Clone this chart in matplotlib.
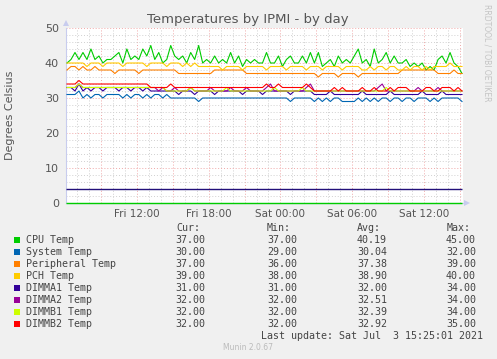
import matplotlib
matplotlib.use("Agg")
import matplotlib.pyplot as plt
from matplotlib.patches import Rectangle

# ---------------- data ----------------
start_hour = 6.1667          # Fri 06:10 (hours since Fri 00:00)
step_hours = 1.0 / 3.0       # 20-minute samples

cpu = [40,41,43,41,43,41,44,41,42,40, 41,41,42,43,40,44,41,42,41,44,
       42,45,41,43,40,41,45,42,41,42, 40,43,41,45,
       40,41,40,42,40,41,40,43,40,42, 39,41,40,41,40,40,
       43,40,40,42,39,41,42,40,40,42, 40,43,40,43,39,40,41,39,42,40,
       41,40,42,44,40,41,39,44,40,41, 43,40,42,40,40,41,39,40,39,40,
       38,39,38,41,42,40,43,40,39,37]
system = [31,31,31,32,30,31,30,31,31,30, 31,31,31,31,30,31,30,31,31,30,
          31,30,31,31,30,31,
          30,30,30,30,30,30,30,29,30,30, 30,30,30,30,30,30,30,30,30,30,
          30,30,30,30,30,30,30,30,30,30,
          29,30,30,30,30,30,29,30,29,30, 29,30,30,29,29,29,29,30,29,30,
          29,30,29,30,30,29,30,30,29,30, 30,29,30,30,30,29,30,29,30,30,
          30,30,30,29]
peripheral = [38,39,39,38,39,38,38,39,38,38, 38,38,37,38,38,38,38,38,37,38,
              38,38,38,38,38,38,38,38,
              37,37,37,37,37,37,37,37,37,
              38,38,38,38,38,38,38,38,
              37,37,37,37,37,37,37,37,37,37, 37,37,37,37,37,37,37,37,36,37,
              37,37,37,36,37,37,37,37,36,37, 37,37,37,37,37,37,37,37,37,38,
              38,38,38,38,38,38,38,38,37,37, 37,37,38,37,37]
pch = [40,40,40,40,40,39,40,40,40,39, 40,40,40,40,39,40,40,40,40,40,
       39,40,40,40,40,39,40,40,40,39, 40,39,40,39,39,39,
       39,39,39,38,39,39,39,39,38,39, 39,39,39,39,38,39,39,39,39,38,
       39,39,39,39,38,39,39,39,38,39, 39,39,39,38,39,39,39,39,38,38,
       39,38,39,39,38,39,39,38,38,39, 38,39,39,38,39,38,39,39,39,39,
       40,39,39,39]
dimma1 = [33,33,32,34,32,33,32,33,33,32, 33,33,33,32,33,33,32,33,33,32, 33,
          32,32,32,32,32,32,32,31,32,32, 32,31,32,32,32,32,31,32,32,32,
          32,32,32,31,32,32,32,32,31,32, 32,32,32,32,32,31,32,32,32,32, 32,
          31,31,31,31,32,31,31,31,31,31, 31,31,32,31,31,31,31,31,31,32,
          31,31,31,31,31,31,31,32,31,31, 31,31,32,31,31,31,31,31]
dimma2 = [33,33,33,34,33,33,33,33,33,33, 33,33,33,33,33,33,33,33,33,33, 33,
          33,33,32,33,32,32,33,32,32,32, 33,32,32,32,32,33,32,32,32,32,
          33,32,32,32,33,32,32,32,32,33, 34,32,32,32,32,32,32,32,32,33, 34,
          32,32,32,32,32,32,32,32,32,32, 32,32,32,32,32,32,33,34,32,32,
          32,32,32,32,32,32,33,32,32,32, 32,33,32,32,32,32,32,32]
dimmb1 = [33,33,33,34,33,33,33,33,33,33, 33,33,33,33,33,33,33,33,33,33,
          33,33,33,33,33,
          32,32,32,32,32,32,33,32,32,32, 32,32,32,32,32,33,32,32,32,32,
          32,32,32,32,32,32,32,33,32,32, 32,32,32,32,33,32,32,32,32,32,
          32,32,32,32,32,32,32,32,32,32, 32,32,32,32,32,33,32,32,32,32,
          32,32,32,32,32,32,32,32,32,32, 32,32,32,32,32]
dimmb2 = [34,34,34,35,34,34,34,34,34,34, 34,34,34,34,34,34,34,34,34,34, 34,
          33,33,33,33,33,34,33,33,33,33, 33,33,33,33,33,33,33,33,33,33,
          33,33,33,33,33,33,33,33,33,34, 33,33,34,33,33,33,33,33,33,34, 33,
          32,32,32,32,32,33,32,33,32,32, 32,32,33,32,32,33,32,32,32,33,
          32,33,33,33,32,32,32,32,33,33, 32,32,33,33,33,32,33,32]
aux_levels = [4, 0]
aux_colors = ["#22107A", "#00CC00"]

series_names = ["CPU Temp", "System Temp", "Peripheral Temp", "PCH Temp",
                "DIMMA1 Temp", "DIMMA2 Temp", "DIMMB1 Temp", "DIMMB2 Temp"]
series_values = [cpu, system, peripheral, pch, dimma1, dimma2, dimmb1, dimmb2]
series_colors = ["#00CC00", "#0066B3", "#FF8000", "#FFCC00",
                 "#330099", "#990099", "#CCFF00", "#FF0000"]
cur_vals = [37.00, 30.00, 37.00, 39.00, 31.00, 32.00, 32.00, 32.00]
min_vals = [37.00, 29.00, 36.00, 38.00, 31.00, 32.00, 32.00, 32.00]
avg_vals = [40.19, 30.04, 37.38, 38.90, 32.00, 32.51, 32.39, 32.92]
max_vals = [45.00, 32.00, 39.00, 40.00, 34.00, 34.00, 34.00, 35.00]

xtick_pos = [12, 18, 24, 30, 36]
xtick_labels = ["Fri 12:00", "Fri 18:00", "Sat 00:00", "Sat 06:00", "Sat 12:00"]
ytick_pos = [0, 10, 20, 30, 40, 50]

# ---------------- figure ----------------
W, H = 497, 359
fig = plt.figure(figsize=(W / 100, H / 100), dpi=100, facecolor="#F0F0F0")
ax = fig.add_axes([66 / W, 1 - 203 / H, 397 / W, 175 / H])
ax.set_facecolor("white")

x0, x1 = 6.083, 39.25
ax.set_xlim(x0, x1)
ax.set_ylim(0, 50)

# grid
dot = (0, (1, 2))
for h in range(7, 40):
    col = "#F0A8A8" if h % 3 == 0 else "#D0D0D0"
    ax.axvline(h, color=col, lw=0.7, ls=dot, zorder=0)
for v in range(2, 51, 2):
    col = "#F0A8A8" if v % 10 == 0 else "#D0D0D0"
    ax.axhline(v, color=col, lw=0.7, ls=dot, zorder=0)

n = len(cpu)
times = [start_hour + i * step_hours for i in range(n)]

for lvl, c in zip(aux_levels, aux_colors):
    ax.plot([x0, times[-1]], [lvl, lvl], color=c, lw=1.0, zorder=4,
            clip_on=False, solid_capstyle="butt")

for vals, c in zip(series_values, series_colors):
    ax.plot(times, vals, color=c, lw=0.8, zorder=3)

for s in ["top", "right"]:
    ax.spines[s].set_visible(False)
for s in ["left", "bottom"]:
    ax.spines[s].set_color("#C8CCEE")
    ax.spines[s].set_linewidth(0.8)
ax.plot([x0], [51.5], marker="^", color="#C8CCEE", ms=4, clip_on=False,
        markeredgewidth=0)
ax.plot([x1 + 0.35], [0], marker=">", color="#C8CCEE", ms=4, clip_on=False,
        markeredgewidth=0)

ax.set_xticks(xtick_pos)
ax.set_xticklabels(xtick_labels)
ax.set_yticks(ytick_pos)
ax.set_yticklabels([str(v) for v in ytick_pos])
ax.tick_params(length=0, labelsize=7.5, colors="#555555", pad=4)
ax.tick_params(axis="y", labelsize=8, pad=5)

# texts
fig.text(248 / W, 1 - 19 / H, "Temperatures by IPMI - by day", ha="center",
         va="center", fontsize=9.5, color="#555555")
fig.text(10 / W, 1 - 115 / H, "Degrees Celsius", rotation=90, ha="center",
         va="center", fontsize=8, color="#555555")
fig.text(487 / W, 1 - 4 / H, "RRDTOOL / TOBI OETIKER", rotation=270,
         ha="center", va="top", fontsize=5.5, color="#C4C4C4")

mono = "DejaVu Sans Mono"
fs = 7.2
tcol = "#444444"
col_ends = [205.5, 297, 387, 476]
hdr_ends = [200, 291, 381, 471]
for lbl, xe in zip(["Cur:", "Min:", "Avg:", "Max:"], hdr_ends):
    fig.text(xe / W, 1 - 228 / H, lbl, ha="right", va="center",
             family=mono, fontsize=fs, color=tcol)
for k, (name, c) in enumerate(zip(series_names, series_colors)):
    yc = 240 + 12 * k
    fig.patches.append(Rectangle((14 / W, 1 - (yc + 3) / H), 6 / W, 6 / H,
                                 transform=fig.transFigure, facecolor=c,
                                 edgecolor="none"))
    fig.text(26 / W, 1 - yc / H, name, ha="left", va="center",
             family=mono, fontsize=fs, color=tcol)
    for vals, xe in zip([cur_vals, min_vals, avg_vals, max_vals], col_ends):
        fig.text(xe / W, 1 - yc / H, f"{vals[k]:.2f}", ha="right",
                 va="center", family=mono, fontsize=fs, color=tcol)

fig.text(483 / W, 1 - 336 / H, "Last update: Sat Jul  3 15:25:01 2021",
         ha="right", va="center", family=mono, fontsize=fs, color=tcol)
fig.text(248 / W, 1 - 348 / H, "Munin 2.0.67", ha="center", va="center",
         fontsize=5.5, color="#BBBBBB")

fig.savefig("out.png", dpi=100, facecolor=fig.get_facecolor())
